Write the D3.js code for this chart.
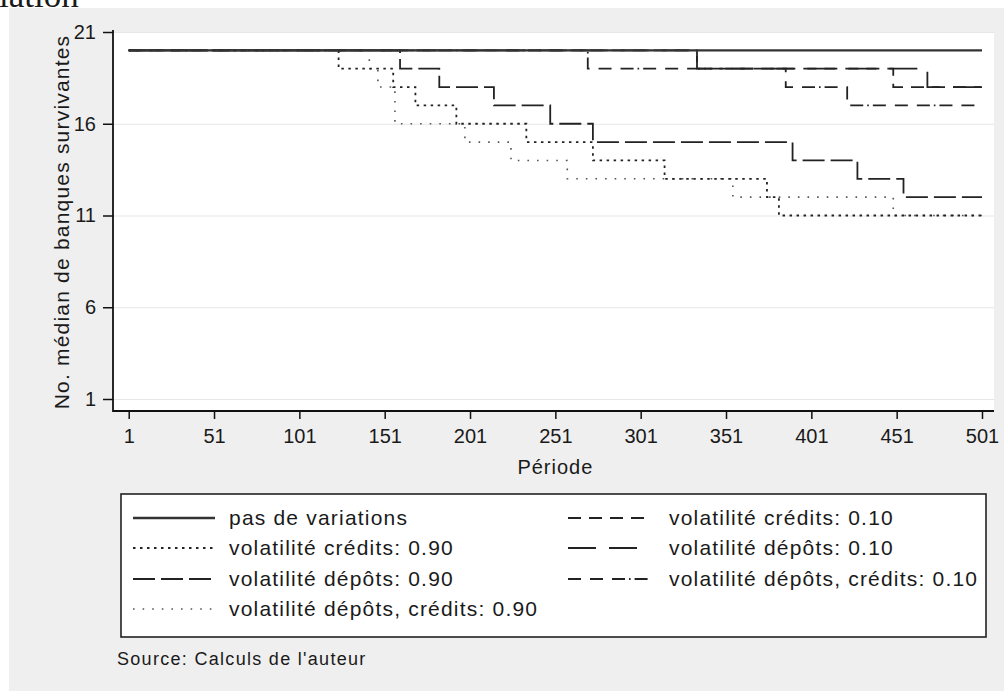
<!DOCTYPE html>
<html><head><meta charset="utf-8">
<script src="https://cdn.jsdelivr.net/npm/d3@7"></script>
<style>
body{margin:0;background:#fff}
svg{display:block}
text{font-family:"Liberation Sans",Arial,sans-serif;fill:#1a1a1a}
</style>
</head><body>
<svg id="c" width="1008" height="691"></svg>
<script>
// ---- data (period, median number of surviving banks) ----
const periodTicks = [1, 51, 101, 151, 201, 251, 301, 351, 401, 451, 501];
const valueTicks = [1, 6, 11, 16, 21];

const pasDeVariations = [[1, 20], [501, 20]];
const creditsHaut = [[1, 20], [124, 19], [156, 18], [169, 17], [193, 16], [234, 15], [273, 14], [315, 13], [375, 12], [382, 11], [501, 11]];
const depotsHaut = [[1, 20], [160, 19], [183, 18], [215, 17], [248, 16], [273, 15], [390, 14], [428, 13], [455, 12], [501, 12]];
const depotsCreditsHaut = [[1, 20], [142, 19], [147, 18], [157, 16], [198, 15], [225, 14], [258, 13], [355, 12], [449, 11], [501, 11]];
const creditsBas = [[1, 20], [334, 19], [449, 18], [501, 18]];
const depotsBas = [[1, 20], [334, 19], [469, 18], [501, 18]];
const depotsCreditsBas = [[1, 20], [270, 19], [386, 18], [422, 17], [501, 17]];

const seriesLabels = [
  "pas de variations",
  "volatilité crédits: 0.90",
  "volatilité dépôts: 0.90",
  "volatilité dépôts, crédits: 0.90",
  "volatilité crédits: 0.10",
  "volatilité dépôts: 0.10",
  "volatilité dépôts, crédits: 0.10"
];
const seriesData = [pasDeVariations, creditsHaut, depotsHaut, depotsCreditsHaut, creditsBas, depotsBas, depotsCreditsBas];

// ---- styles ----
const styles = [
  {color: "#333", width: 2.4, dash: null},
  {color: "#222", width: 1.8, dash: "2.5,4.5"},
  {color: "#222", width: 1.8, dash: "22,6"},
  {color: "#555", width: 1.6, dash: "1.6,8"},
  {color: "#222", width: 1.8, dash: "13,8"},
  {color: "#222", width: 1.8, dash: "28,13"},
  {color: "#222", width: 1.8, dash: "13,9,13,9,13,4,1.6,4"}
];

const svg = d3.select("#c");
const W = 1008, H = 691;

// background panel
svg.append("rect").attr("x", 0).attr("y", 0).attr("width", W).attr("height", H).attr("fill", "#fff");
svg.append("rect").attr("x", 9).attr("y", 8).attr("width", 995).attr("height", H - 8).attr("fill", "#efefef");

// cut-off title fragment at top (partially outside the page, as in the original)
svg.append("text").attr("x", -1).attr("y", 7)
  .style("font-family", "'Liberation Serif','DejaVu Serif',serif")
  .style("font-size", "35px").text("lation");

// plot region
const plot = {left: 113, right: 994, top: 32, bottom: 411};
svg.append("rect").attr("x", plot.left).attr("y", plot.top)
  .attr("width", plot.right - plot.left).attr("height", plot.bottom - plot.top).attr("fill", "#fff");

const x = d3.scaleLinear().domain([1, 501]).range([128.7, 982]);
const y = d3.scaleLinear().domain([1, 21]).range([399, 32]);

// gridlines
svg.append("g").selectAll("line").data(valueTicks).join("line")
  .attr("x1", plot.left).attr("x2", plot.right)
  .attr("y1", d => y(d) + 0.5).attr("y2", d => y(d) + 0.5)
  .attr("stroke", "#e6e6e6").attr("stroke-width", 1.2);

// y axis
const yAxis = svg.append("g").attr("transform", `translate(${plot.left},0)`)
  .call(d3.axisLeft(y).tickValues(valueTicks).tickSize(10).tickPadding(7).tickFormat(d3.format("d")));
yAxis.select(".domain").remove();
yAxis.selectAll(".tick line").attr("stroke", "#111").attr("stroke-width", 1.5);
yAxis.selectAll("text").style("font-size", "20px").attr("fill", "#1a1a1a")
  .style("font-family", "'Liberation Sans',Arial,sans-serif");
svg.append("line").attr("x1", plot.left).attr("x2", plot.left).attr("y1", 30).attr("y2", plot.bottom + 1)
  .attr("stroke", "#111").attr("stroke-width", 1.8);

// x axis
const xAxis = svg.append("g").attr("transform", `translate(0,${plot.bottom})`)
  .call(d3.axisBottom(x).tickValues(periodTicks).tickSize(8).tickPadding(10).tickFormat(d3.format("d")));
xAxis.select(".domain").remove();
xAxis.selectAll(".tick line").attr("stroke", "#111").attr("stroke-width", 1.5);
xAxis.selectAll("text").style("font-size", "20px").attr("fill", "#1a1a1a")
  .style("font-family", "'Liberation Sans',Arial,sans-serif");
svg.append("line").attr("x1", plot.left).attr("x2", plot.right).attr("y1", plot.bottom).attr("y2", plot.bottom)
  .attr("stroke", "#111").attr("stroke-width", 1.8);

// axis titles
svg.append("text").attr("x", (128.7 + 982) / 2).attr("y", 474).attr("text-anchor", "middle")
  .style("font-size", "20px").style("letter-spacing", "1px").text("Période");
svg.append("text").attr("transform", "translate(69,222) rotate(-90)").attr("text-anchor", "middle")
  .style("font-size", "21px").style("letter-spacing", "1.2px").text("No. médian de banques survivantes");

// series
const line = d3.line().x(d => x(d[0])).y(d => y(d[1])).curve(d3.curveStepAfter);
const order = [6, 5, 4, 3, 2, 1, 0];
svg.append("g").selectAll("path").data(order).join("path")
  .attr("d", i => line(seriesData[i]))
  .attr("fill", "none")
  .attr("stroke", i => styles[i].color)
  .attr("stroke-width", i => styles[i].width)
  .attr("stroke-dasharray", i => styles[i].dash);

// legend
svg.append("rect").attr("x", 121).attr("y", 494).attr("width", 865).attr("height", 143)
  .attr("fill", "#fff").attr("stroke", "#222").attr("stroke-width", 1.6);
const legendPos = [
  {sx: 133, tx: 229, cy: 518}, {sx: 133, tx: 229, cy: 548}, {sx: 133, tx: 229, cy: 579}, {sx: 133, tx: 229, cy: 609},
  {sx: 568, tx: 669, cy: 518}, {sx: 568, tx: 669, cy: 548}, {sx: 568, tx: 669, cy: 579}
];
const lg = svg.append("g").selectAll("g").data(seriesLabels).join("g");
lg.append("line")
  .attr("x1", (d, i) => legendPos[i].sx).attr("x2", (d, i) => legendPos[i].sx + 82)
  .attr("y1", (d, i) => legendPos[i].cy).attr("y2", (d, i) => legendPos[i].cy)
  .attr("stroke", (d, i) => styles[i].color).attr("stroke-width", (d, i) => styles[i].width)
  .attr("stroke-dasharray", (d, i) => styles[i].dash);
lg.append("text")
  .attr("x", (d, i) => legendPos[i].tx).attr("y", (d, i) => legendPos[i].cy + 7)
  .style("font-size", "21px").style("letter-spacing", "1.2px").text(d => d);

// source note
svg.append("text").attr("x", 117).attr("y", 665).style("font-size", "18px").style("letter-spacing", "1.3px")
  .text("Source: Calculs de l'auteur");
</script>
</body></html>
